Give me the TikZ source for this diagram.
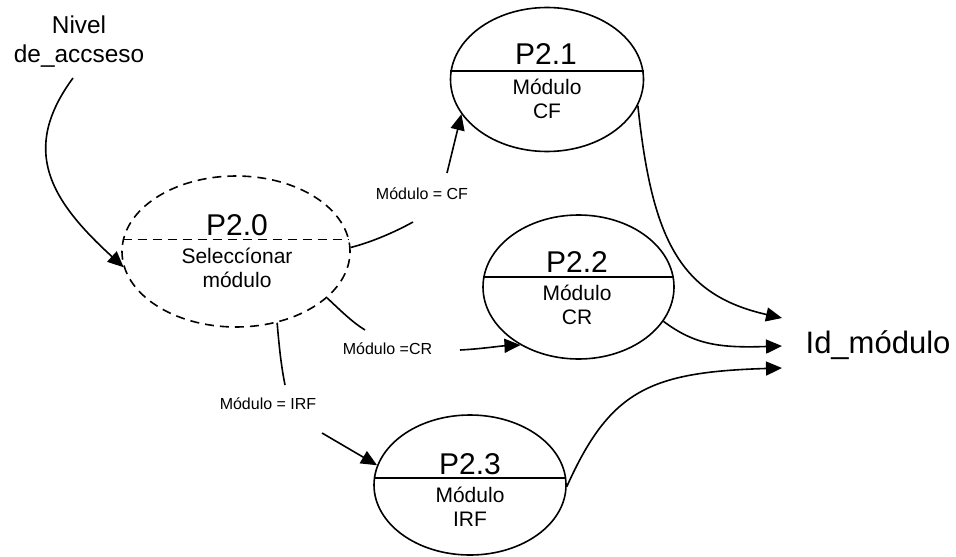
\documentclass[tikz,border=0pt]{standalone}
\usepackage{fontspec}
\setmainfont{Liberation Sans}
\usetikzlibrary{arrows.meta,shapes.geometric}

\begin{document}
\begin{tikzpicture}[
    x=0.5pt, y=-0.5pt,
    proc/.style={draw, ellipse, inner sep=0pt, line width=0.8pt},
    split/.style={line width=0.8pt},
    title/.style={font=\fontsize{15}{18}\selectfont, inner sep=0pt, anchor=base},
    body/.style={font=\fontsize{10.5}{12}\selectfont, align=center, inner sep=0pt, anchor=north},
    cond/.style={font=\fontsize{8}{9.6}\selectfont, inner sep=0pt, anchor=base},
    flow/.style={-{Triangle[length=8pt,width=7pt]}, line width=0.8pt},
    wire/.style={line width=0.8pt},
    dashline/.style={dash pattern=on 4.5pt off 3pt}
]
    \useasboundingbox (0,0) rectangle (956,556);

    % processes
    \node[proc, dashline, minimum width=114pt, minimum height=75.5pt] (p20) at (236,251.5) {};
    \node[proc, minimum width=96.5pt, minimum height=72pt] (p21) at (547,79.5) {};
    \node[proc, minimum width=95.5pt, minimum height=72pt] (p22) at (578.5,287) {};
    \node[proc, minimum width=96pt, minimum height=70pt] (p23) at (470,485) {};

    \draw[split, dashline] (p20.174) -- (p20.6);
    \draw[split] (p21.175) -- (p21.5);
    \draw[split] (p22.174) -- (p22.6);
    \draw[split] (p23.176) -- (p23.4);

    \node[title] (t20) at (237,235) {P2.0};
    \node[body] (b20) at (237,248) {Seleccíonar\\módulo};
    \node[title] (t21) at (546,65) {P2.1};
    \node[body] (b21) at (547,79) {Módulo\\CF};
    \node[title] (t22) at (577,272) {P2.2};
    \node[body] (b22) at (577,285) {Módulo\\CR};
    \node[title] (t23) at (470,474) {P2.3};
    \node[body] (b23) at (470,487) {Módulo\\IRF};

    % external flows
    \node[font=\fontsize{12.2}{14.5}\selectfont, align=center, inner sep=0pt, anchor=north] (nivel) at (79,15) {Nivel\\de\_accseso};
    \node[font=\fontsize{15.5}{18}\selectfont, inner sep=0pt, anchor=base] (id) at (878,353) {Id\_módulo};

    % conditions
    \node[cond] (lcf) at (422,199) {Módulo = CF};
    \node[cond] (lcr) at (387.5,354) {Módulo =CR};
    \node[cond] (lirf) at (268,409) {Módulo = IRF};

    \coordinate (nv) at (73,78);
    \coordinate (cf1) at (413,222);
    \coordinate (cf2) at (447,173);
    \coordinate (cr1) at (365,330);
    \coordinate (cr2) at (460,350);
    \coordinate (irf1) at (285,385);
    \coordinate (irf2) at (322,433);
    \coordinate (id1) at (782,318);
    \coordinate (id2) at (782,346);
    \coordinate (id3) at (782,368);

    \draw[flow] (nv) .. controls (20,150) and (50,200) .. (p20.188);
    \draw[wire] (p20.2) .. controls (372,242) and (395,232) .. (cf1);
    \draw[flow] (cf2) -- (p21.202);
    \draw[wire] (p20.333) .. controls (340,310) and (352,322) .. (cr1);
    \draw[flow] (cr2) .. controls (480,349) and (500,346) .. (p22.225);
    \draw[wire] (p20.300) .. controls (279,345) and (281,365) .. (irf1);
    \draw[flow] (irf2) -- (p23.168);
    \draw[flow] (p21.344) .. controls (652,240) and (680,295) .. (id1);
    \draw[flow] (p22.338) .. controls (695,345) and (720,348) .. (id2);
    \draw[flow] (p23.-1) .. controls (610,390) and (650,372) .. (id3);
\end{tikzpicture}
\end{document}
